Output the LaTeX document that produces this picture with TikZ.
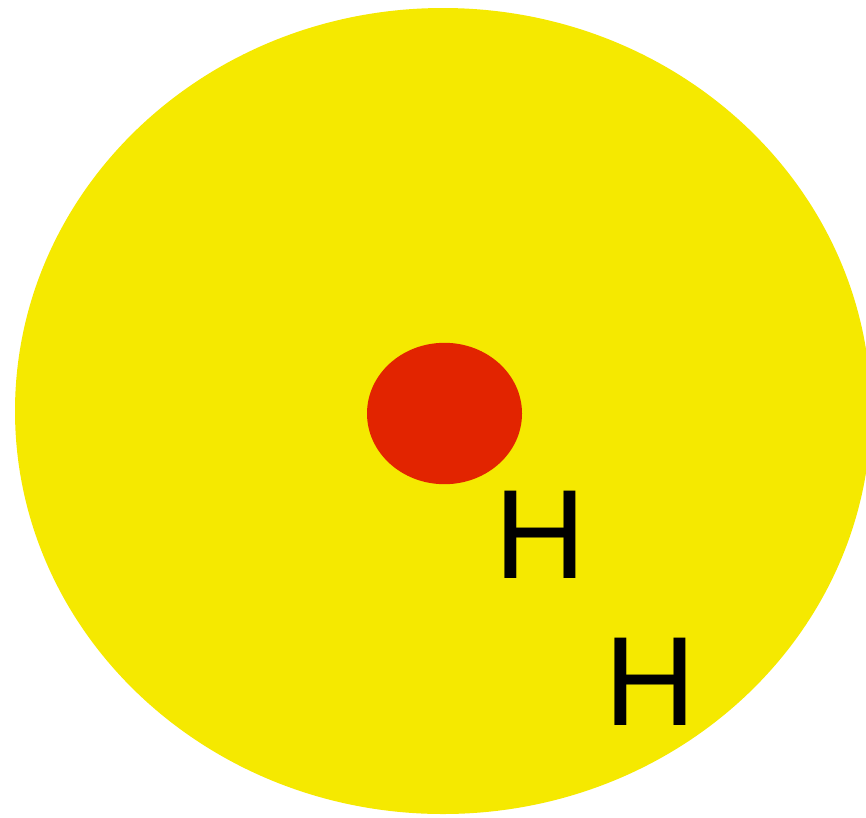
\documentclass[tikz,border=0pt]{standalone}
\usepackage{fontspec}
\setmainfont{Liberation Sans}
\definecolor{sunyellow}{RGB}{245,233,0}
\definecolor{corered}{RGB}{226,36,0}
\begin{document}
\begin{tikzpicture}[x=1pt,y=-1pt,
  hlabel/.style={inner sep=0pt, font=\fontsize{127}{127}\selectfont, text=black}]
\useasboundingbox (0,0) rectangle (866,817);
\begin{scope}
\clip (0,0) rectangle (866,817);
\fill[sunyellow] (443,411) ellipse [x radius=428, y radius=403];
\end{scope}
\fill[corered] (444.5,413.5) ellipse [x radius=77.5, y radius=70.7];
\node[hlabel, anchor=base] (h1) at (540.5,578.3) {H};
\node[hlabel, anchor=base] (h2) at (650,725.3) {H};
\end{tikzpicture}
\end{document}
